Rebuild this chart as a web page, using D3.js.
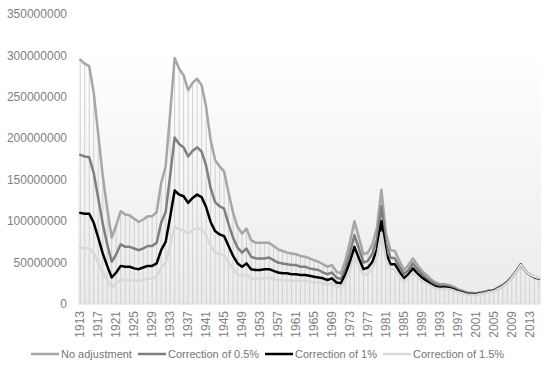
<!DOCTYPE html>
<html>
<head>
<meta charset="utf-8">
<script src="https://cdn.jsdelivr.net/npm/d3@7"></script>
<style>
  body { margin: 0; background: #fff; }
  svg { display: block; font-family: "Liberation Sans", Arial, sans-serif; }
</style>
</head>
<body>
<svg id="chart" width="550" height="370"></svg>
<script>
// values in millions, 1913 - 2015
const years = d3.range(1913, 2016);
const noAdjustment = [295,290,287,255,205,155,115,80,95,112,
  108,107,103,99,102,106,106,111,146,166,
  230,297,284,276,258,267,272,264,238,198,
  174,166,160,134,110,93,85,91,77,74,
  74,74,74,70,66,64,62,61,60,58,
  57,55,53,51,48,45,47,39,37,53,
  75,100,80,60,62,72,92,138,85,65,
  64,52,41,47,55,47,40,35,30,26,
  24,24,23,21,18,16,14,13.5,13,14,
  15,16.5,17,20,23,27,33,40,48,40,
  35,32,30];
const correction05 = [180,178,177,158,128,97,72,51,60,72,
  69,69,67,65,67,70,70,74,98,111,
  155,201,193,189,178,185,189,184,167,140,
  123,118,115,96,80,68,62,67,57,55,
  55,55,56,53,50,49,48,47,47,45,
  45,43,42,41,38,36,38,32,30,43,
  62,83,67,50,52,61,78,118,73,56,
  55,45,36,41,49,42,36,31,27,24,
  22,22,21,19.4,16.7,14.9,13.1,12.7,12.3,13.3,
  14.3,15.9,16.4,19.4,22.4,26.5,32.5,39.6,47.8,40,
  35.2,32.3,30.5];
const correction1 = [110,109,109,98,80,61,46,32,38,46,
  45,45,43,42,44,46,46,49,65,75,
  105,137,132,130,122,128,132,129,117,99,
  88,84,82,70,58,49,45,49,42,41,
  41,42,42,40,38,37,37,36,36,35,
  35,34,33,32,31,29,31,26,25,36,
  51,69,55,42,44,51,66,100,62,48,
  48,39,31,36,43,37,32,28,24,21,
  19.9,20.1,19.4,17.9,15.5,13.9,12.3,12,11.7,12.7,
  13.7,15.2,15.9,18.8,21.9,25.9,32,39.2,47.5,40,
  35.4,32.6,30.9];
const correction15 = [68,67,68,61,50,38,29,20,25,29,
  29,29,28,28,29,30,31,33,44,50,
  71,93,90,89,85,89,92,90,83,70,
  62,60,59,50,42,36,33,36,31,30,
  31,31,32,30,29,29,28,28,28,28,
  28,27,26,26,25,23,25,21,20,29,
  42,57,46,35,37,43,56,86,54,42,
  42,34,27,32,38,33,28,25,22,19,
  18.1,18.4,17.9,16.5,14.4,13,11.5,11.3,11,12.1,
  13.1,14.6,15.3,18.3,21.4,25.4,31.6,38.8,47.3,40,
  35.5,33,31.4];

const seriesNames = ['No adjustment', 'Correction of 0.5%', 'Correction of 1%', 'Correction of 1.5%'];
const seriesColors = ['#a6a6a6', '#7f7f7f', '#000000', '#d9d9d9'];
const yTickValues = [0, 50, 100, 150, 200, 250, 300, 350];
const yTickLabels = ['0', '50000000', '100000000', '150000000', '200000000', '250000000', '300000000', '350000000'];
const xTickYears = d3.range(1913, 2016, 4);

const allSeries = [noAdjustment, correction05, correction1, correction15];

const svg = d3.select('#chart');
const plot = { left: 78, right: 541, top: 14, bottom: 304 };

const x = d3.scaleBand()
    .domain(years)
    .range([plot.left, plot.right])
    .padding(0);
const cx = yr => x(yr) + x.bandwidth() / 2;

const y = d3.scaleLinear()
    .domain([0, 350])
    .range([plot.bottom, plot.top]);

// plot area gradient
const defs = svg.append('defs');
const grad = defs.append('linearGradient')
    .attr('id', 'bg')
    .attr('x1', 0).attr('y1', 0).attr('x2', 0).attr('y2', 1);
grad.append('stop').attr('offset', '0%').attr('stop-color', '#ffffff');
grad.append('stop').attr('offset', '12%').attr('stop-color', '#ffffff');
grad.append('stop').attr('offset', '100%').attr('stop-color', '#ebebeb');

svg.append('rect')
    .attr('x', plot.left)
    .attr('y', plot.top)
    .attr('width', plot.right - plot.left)
    .attr('height', plot.bottom - plot.top)
    .attr('fill', 'url(#bg)');

// y labels
svg.append('g')
    .selectAll('text')
    .data(yTickValues)
    .join('text')
    .attr('x', 67)
    .attr('y', d => y(d))
    .attr('dy', '0.35em')
    .attr('text-anchor', 'end')
    .style('font-size', '12px')
    .attr('fill', '#808080')
    .text((d, i) => yTickLabels[i]);

// drop lines
svg.append('g')
    .selectAll('line')
    .data(years)
    .join('line')
    .attr('x1', d => cx(d))
    .attr('x2', d => cx(d))
    .attr('y1', y(0))
    .attr('y2', (d, i) => y(d3.max(allSeries, s => s[i])))
    .attr('stroke', '#d0d0d0')
    .attr('stroke-width', 1);

// baseline
svg.append('line')
    .attr('x1', plot.left).attr('x2', plot.right)
    .attr('y1', y(0)).attr('y2', y(0))
    .attr('stroke', '#d9d9d9')
    .attr('stroke-width', 1);

// x labels
svg.append('g')
    .selectAll('text')
    .data(xTickYears)
    .join('text')
    .attr('transform', d => `translate(${cx(d)},311) rotate(-90)`)
    .attr('dy', '0.35em')
    .attr('text-anchor', 'end')
    .style('font-size', '12px')
    .attr('fill', '#808080')
    .text(d => d);

// lines
const line = d3.line()
    .x((d, i) => cx(years[i]))
    .y(d => y(d));

svg.append('g')
    .selectAll('path')
    .data(allSeries)
    .join('path')
    .attr('fill', 'none')
    .attr('stroke', (d, i) => seriesColors[i])
    .attr('stroke-width', 2.5)
    .attr('stroke-linejoin', 'round')
    .attr('stroke-linecap', 'round')
    .attr('d', line);

// legend
const legendX = [31, 138, 265, 383];
const legend = svg.append('g');
seriesNames.forEach((name, i) => {
    legend.append('line')
        .attr('x1', legendX[i]).attr('x2', legendX[i] + 28)
        .attr('y1', 354).attr('y2', 354)
        .attr('stroke', seriesColors[i])
        .attr('stroke-width', 2.5);
    legend.append('text')
        .attr('x', legendX[i] + 30)
        .attr('y', 354)
        .attr('dy', '0.35em')
        .style('font-size', '11px')
        .attr('fill', '#767676')
        .text(name);
});
</script>
</body>
</html>
